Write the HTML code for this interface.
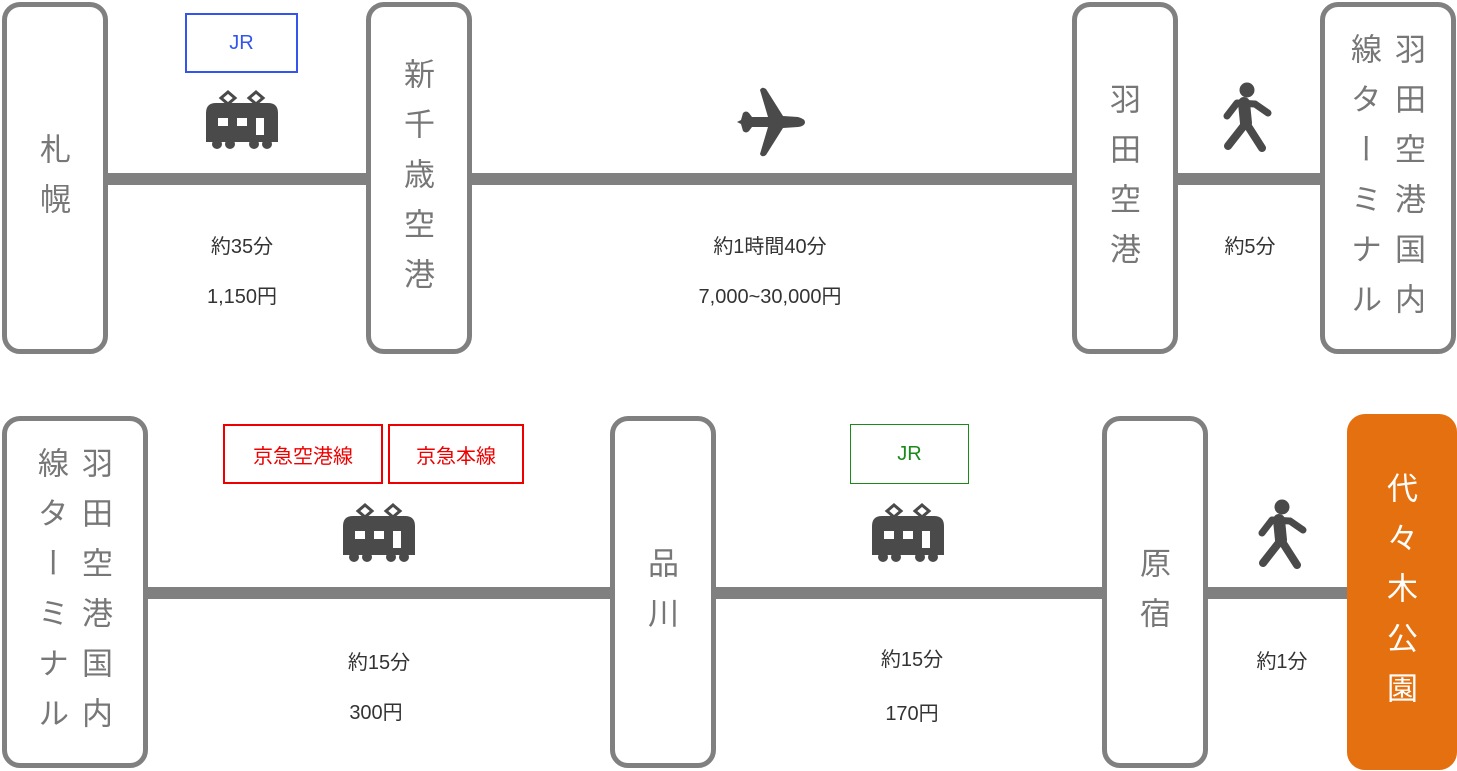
<!DOCTYPE html>
<html><head><meta charset="utf-8"><style>
body{margin:0;width:1457px;height:771px;background:#fff;position:relative;overflow:hidden;font-family:"Liberation Sans","Noto Sans CJK JP",sans-serif;}
.box{position:absolute;box-sizing:border-box;border:5px solid #808080;border-radius:18px;background:#fff;display:flex;align-items:center;justify-content:center;}
.v{writing-mode:vertical-rl;font-size:31px;letter-spacing:19px;line-height:44px;color:#777;margin-top:10px;margin-right:6px;}
.v2{margin-top:26px;}
.line{position:absolute;background:#808080;height:12px;}
.lbl{position:absolute;font-size:20px;color:#333;text-align:center;width:240px;}
.tag{position:absolute;box-sizing:border-box;border:2px solid;display:flex;align-items:center;justify-content:center;font-size:20px;}
svg{position:absolute;left:0;top:0}
</style></head><body>
<div class="line" style="left:100px;top:173px;width:1230px"></div>
<div class="line" style="left:140px;top:587px;width:1220px"></div>

<div class="box" style="left:2px;top:2px;width:106px;height:352px"><div class="v">札幌</div></div>
<div class="box" style="left:366px;top:2px;width:106px;height:352px"><div class="v">新千歳空港</div></div>
<div class="box" style="left:1072px;top:2px;width:106px;height:352px"><div class="v">羽田空港</div></div>
<div class="box" style="left:1320px;top:2px;width:136px;height:352px"><div class="v v2">羽田空港国内線ターミナル</div></div>

<div class="box" style="left:2px;top:416px;width:146px;height:352px"><div class="v v2">羽田空港国内線ターミナル</div></div>
<div class="box" style="left:610px;top:416px;width:106px;height:352px"><div class="v">品川</div></div>
<div class="box" style="left:1102px;top:416px;width:106px;height:352px"><div class="v">原宿</div></div>
<div class="box" style="left:1347px;top:414px;width:110px;height:356px;background:#e5700f;border-color:#e5700f"><div class="v" style="color:#fff">代々木公園</div></div>

<div class="tag" style="left:185px;top:13px;width:113px;height:60px;border-color:#3355ee;color:#3355ee">JR</div>
<div class="tag" style="left:223px;top:424px;width:160px;height:60px;border-color:#e00;color:#e00">京急空港線</div>
<div class="tag" style="left:388px;top:424px;width:136px;height:60px;border-color:#e00;color:#e00">京急本線</div>
<div class="tag" style="left:850px;top:424px;width:119px;height:60px;border-color:#1a8a1a;color:#1a8a1a;border-width:1.5px">JR</div>

<div class="lbl" style="left:122px;top:230px">約35分</div>
<div class="lbl" style="left:122px;top:280px">1,150円</div>
<div class="lbl" style="left:650px;top:230px">約1時間40分</div>
<div class="lbl" style="left:650px;top:280px">7,000~30,000円</div>
<div class="lbl" style="left:1130px;top:230px">約5分</div>
<div class="lbl" style="left:259px;top:646px">約15分</div>
<div class="lbl" style="left:256px;top:696px">300円</div>
<div class="lbl" style="left:792px;top:643px">約15分</div>
<div class="lbl" style="left:792px;top:697px">170円</div>
<div class="lbl" style="left:1162px;top:645px">約1分</div>

<svg width="1457" height="771">
<defs>
<g id="train" fill="#4a4a4a">
<path d="M-36,-14 Q-36,-24 -26,-24 L26,-24 Q36,-24 36,-14 L36,15 L-36,15 Z"/>
<circle cx="-25" cy="17" r="5"/><circle cx="-12" cy="17" r="5"/><circle cx="12" cy="17" r="5"/><circle cx="25" cy="17" r="5"/>
<path d="M-14,-35 L-7,-29 L-14,-23 L-21,-29 Z M14,-35 L21,-29 L14,-23 L7,-29 Z" fill="none" stroke="#4a4a4a" stroke-width="3"/>
<rect x="-24" y="-9" width="10" height="8" fill="#fff"/><rect x="-5" y="-9" width="10" height="8" fill="#fff"/><rect x="14" y="-9" width="8" height="17" fill="#fff"/>
</g>
<g id="walk" stroke="#4a4a4a" stroke-linecap="round" stroke-linejoin="round" fill="none">
<circle cx="0" cy="-28" r="7.5" fill="#4a4a4a" stroke="none"/>
<path d="M-3,-15 L-1,5" stroke-width="12"/>
<path d="M-20,-2 L-10,-15 L8,-14 L21,-5" stroke-width="7"/>
<path d="M-1,5 L-19,28 M-1,5 L15,30" stroke-width="8"/>
</g>
</defs>
<use href="#train" x="242" y="127"/>
<use href="#train" x="379" y="540"/>
<use href="#train" x="908" y="540"/>
<use href="#walk" x="1247" y="118"/>
<use href="#walk" x="1282" y="535"/>
<path fill="#4a4a4a" d="M737,122 L741,120 L743,113 Q746,110 749,113 L752,117 L768,117 L760,90 Q762,86 766,89 L783,116 L798,117 Q805,119 805,122 Q805,126 798,127 L783,128 L766,155 Q762,158 760,154 L768,127 L752,127 L749,131 Q746,134 743,131 L741,124 Z"/>
</svg>
</body></html>
